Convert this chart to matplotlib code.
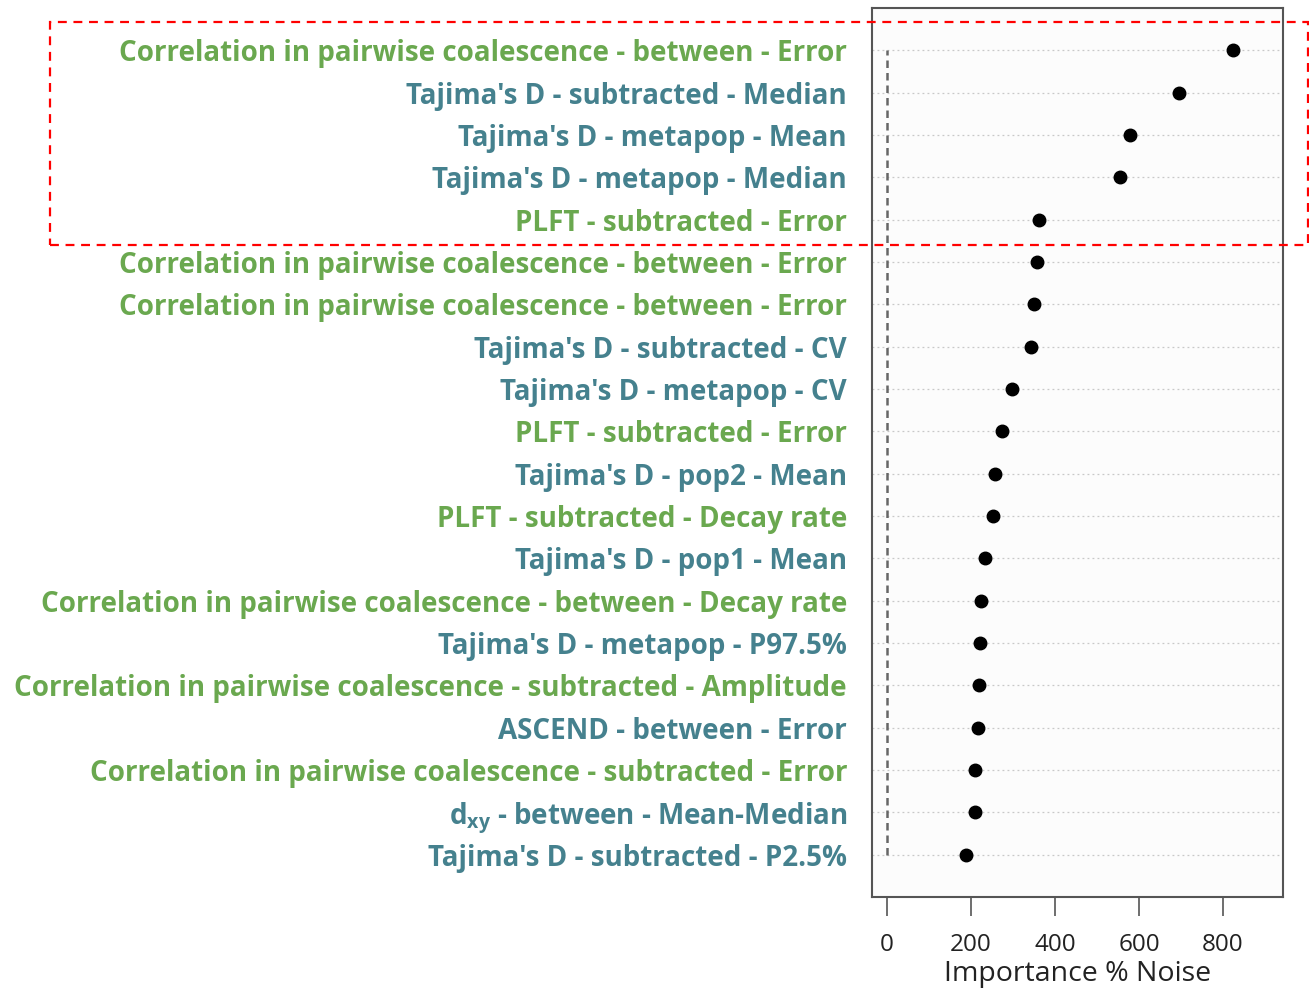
import numpy as np
import matplotlib
matplotlib.use("Agg")
import matplotlib.pyplot as plt
from matplotlib.patches import Rectangle

# statistics, top to bottom
labels = [
    "Correlation in pairwise coalescence - between - Error",
    "Tajima's D - subtracted - Median",
    "Tajima's D - metapop - Mean",
    "Tajima's D - metapop - Median",
    "PLFT - subtracted - Error",
    "Correlation in pairwise coalescence - between - Error",
    "Correlation in pairwise coalescence - between - Error",
    "Tajima's D - subtracted - CV",
    "Tajima's D - metapop - CV",
    "PLFT - subtracted - Error",
    "Tajima's D - pop2 - Mean",
    "PLFT - subtracted - Decay rate",
    "Tajima's D - pop1 - Mean",
    "Correlation in pairwise coalescence - between - Decay rate",
    "Tajima's D - metapop - P97.5%",
    "Correlation in pairwise coalescence - subtracted - Amplitude",
    "ASCEND - between - Error",
    "Correlation in pairwise coalescence - subtracted - Error",
    r"d$_{\mathrm{xy}}$ - between - Mean-Median",
    "Tajima's D - subtracted - P2.5%",
]
importance = [824, 695, 579, 555, 362, 357, 350, 343, 298, 274,
              257, 252, 233, 224, 221, 219, 217, 210, 210, 188]
groups = ["g", "t", "t", "t", "g", "g", "g", "t", "t", "g",
          "t", "g", "t", "g", "t", "g", "t", "g", "t", "t"]

green = "#6aa84f"
teal = "#45818e"

plt.rcParams['font.family'] = ['Open Sans', 'DejaVu Sans']
plt.rcParams['mathtext.fontset'] = 'custom'
plt.rcParams['mathtext.rm'] = 'Open Sans:bold'

fig = plt.figure(figsize=(13.09, 9.88), dpi=100)
ax = fig.add_axes([872/1309, 1 - 897/988, (1283-872)/1309, (897-8)/988])
ax.set_facecolor("#fcfcfc")

n = len(labels)
ypos = np.arange(n, 0, -1)

for y in ypos:
    ax.axhline(y, color="#c8c8c8", lw=0.9, ls=(0, (1.5, 2.5)), zorder=1)
ax.vlines(0, 1, n, color="#666666", lw=1.8, ls=(0, (3, 2)), zorder=1)
ax.plot(importance, ypos, "o", color="black", ms=9, zorder=3)

ax.set_xlim(-36, 943)
ax.set_ylim(0, n + 1)
ax.set_xticks([0, 200, 400, 600, 800])
ax.tick_params(axis="x", length=14, width=1.2, color="#555555", pad=12,
               labelsize=17.5, labelcolor="#222222")
ax.set_yticks(ypos)
ax.set_yticklabels(labels, fontsize=20, fontweight="bold")
ax.tick_params(axis="y", length=0, pad=18)
for lab, g in zip(ax.get_yticklabels(), groups):
    lab.set_color(green if g == "g" else teal)
for sp in ax.spines.values():
    sp.set_color("#555555")
    sp.set_linewidth(1.5)
ax.set_xlabel("Importance % Noise", fontsize=20.5, color="#222222", labelpad=2)

# highlight box round the top five
fig.patches.append(Rectangle((50/1309, 1 - 245/988), (1308-50)/1309, (245-22)/988,
                             transform=fig.transFigure, fill=False, ec="red",
                             lw=1.6, ls=(0, (4, 3)), zorder=10))

fig.savefig("out.png", dpi=100)
